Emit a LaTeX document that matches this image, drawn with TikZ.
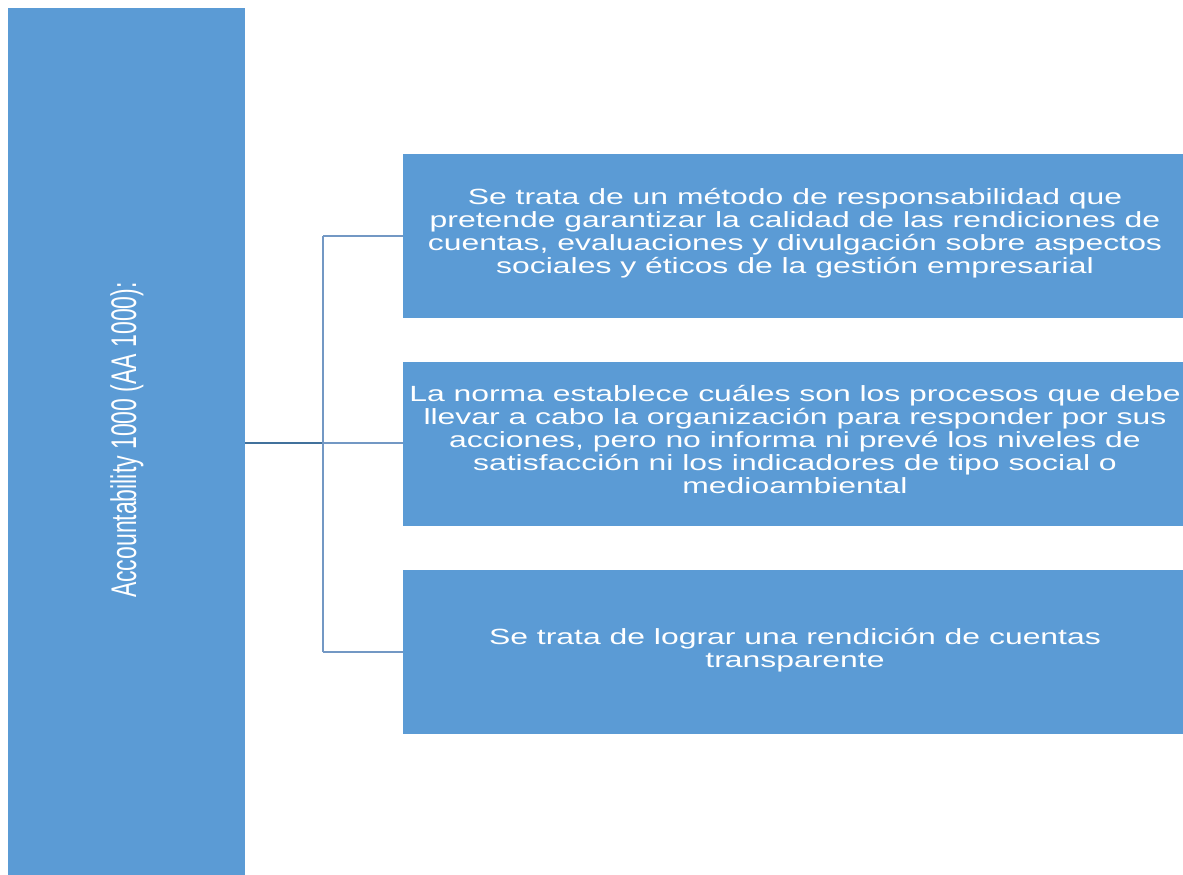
\documentclass[tikz,border=0pt]{standalone}
\usepackage{fontspec}
\setmainfont{Liberation Sans}
\usepackage{graphicx}
\usepackage{tikz}

\definecolor{boxblue}{HTML}{5B9BD5}
\definecolor{rootline}{HTML}{41719C}
\definecolor{branchline}{HTML}{7398C4}

\begin{document}
\begin{tikzpicture}[x=0.5pt, y=-0.5pt,
		bluebox/.style={rectangle, fill=boxblue, draw=none, inner sep=0pt},
		boxtext/.style={text=white, align=center, inner sep=0pt, font=\fontsize{11}{11.5}\selectfont},
		branch/.style={branchline, line width=0.75pt}]
		
		\useasboundingbox (0,0) rectangle (1183,874);
		
		% Node
		
		\node[bluebox, minimum width = 118.5pt, minimum height = 440pt]
		(acc) at (126.5,448) {};
		\node[rotate=90, text=white, font=\fontsize{11.5}{13}\selectfont]
		(acctext) at (127,440) {\scalebox{1}[1.55]{Accountability 1000 (AA 1000):}};
		
		\node[bluebox, minimum width = 394pt, minimum height = 82pt]
		(b1) at (797,236) {};
		\node[bluebox, minimum width = 394pt, minimum height = 82pt]
		(b2) at (797,444) {};
		\node[bluebox, minimum width = 394pt, minimum height = 82pt]
		(b3) at (797,652) {};
		
		% Text
		
		\node[boxtext] (t1) at (795,234) {\scalebox{1.45}[1]{\begin{tabular}{@{}c@{}}
				Se trata de un método de responsabilidad que\\
				pretende garantizar la calidad de las rendiciones de\\
				cuentas, evaluaciones y divulgación sobre aspectos\\
				sociales y éticos de la gestión empresarial\end{tabular}}};
		\node[boxtext] (t2) at (795,443) {\scalebox{1.45}[1]{\begin{tabular}{@{}c@{}}
				La norma establece cuáles son los procesos que debe\\
				llevar a cabo la organización para responder por sus\\
				acciones, pero no informa ni prevé los niveles de\\
				satisfacción ni los indicadores de tipo social o\\
				medioambiental\end{tabular}}};
		\node[boxtext] (t3) at (795,651) {\scalebox{1.45}[1]{\begin{tabular}{@{}c@{}}
				Se trata de lograr una rendición de cuentas\\
				transparente\end{tabular}}};
		
		% EDGE
		
		\coordinate (fork) at (323,443);
		
		\draw[rootline, line width=0.75pt] (acc.east |- fork) -- (fork);
		\draw[branch] (fork) -- (fork -| b2.west);
		\draw[branch] (fork |- b1.west) -- (fork |- b3.west);
		\draw[branch] (fork |- b1.west) -- (b1.west);
		\draw[branch] (fork |- b3.west) -- (b3.west);
		
	\end{tikzpicture}
\end{document}
